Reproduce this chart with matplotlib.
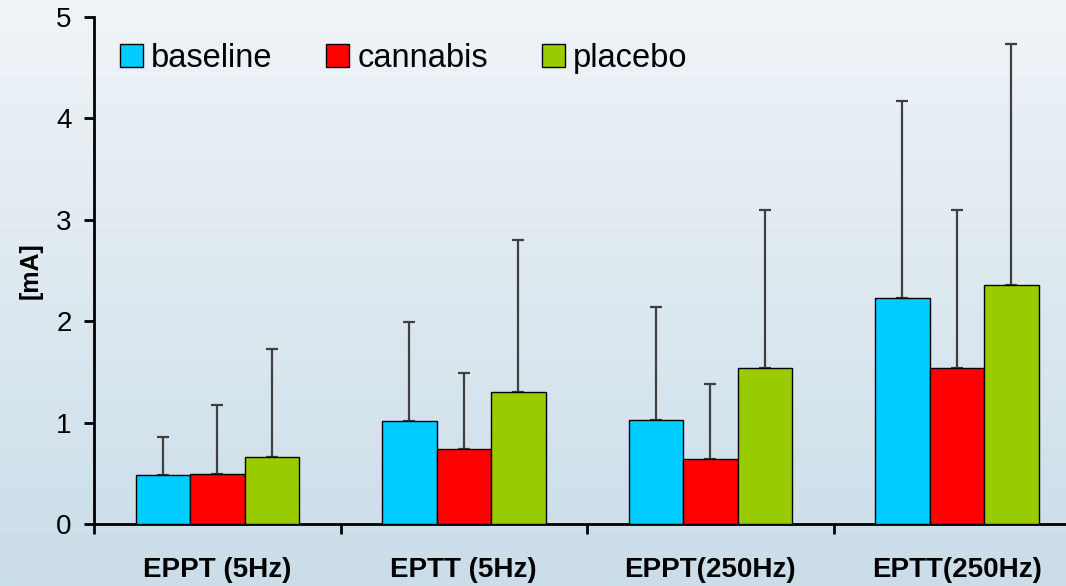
import matplotlib.pyplot as plt
import numpy as np
from matplotlib.ticker import FixedLocator

plt.rcParams['font.family'] = ['Liberation Sans', 'DejaVu Sans']

categories = ['EPPT (5Hz)', 'EPTT (5Hz)', 'EPPT(250Hz)', 'EPTT(250Hz)']
series = ['baseline', 'cannabis', 'placebo']
colors = ['#00CCFF', '#FF0000', '#99CC00']

baseline = [0.48, 1.02, 1.03, 2.23]
cannabis = [0.49, 0.74, 0.64, 1.54]
placebo = [0.66, 1.30, 1.54, 2.36]

# upper error (height above bar)
baseline_err = [0.38, 0.97, 1.11, 1.94]
cannabis_err = [0.68, 0.75, 0.74, 1.56]
placebo_err = [1.07, 1.50, 1.56, 2.37]

fig = plt.figure(figsize=(10.66, 5.86), dpi=100)

# gradient background
bg = fig.add_axes([0, 0, 1, 1], zorder=-10)
grad = np.linspace(0, 1, 256).reshape(-1, 1)
top = np.array([240, 244, 248]) / 255
bot = np.array([202, 221, 232]) / 255
img = top + (bot - top) * grad[:, :, None]
bg.imshow(img, aspect='auto', extent=[0, 1, 0, 1])
bg.axis('off')

ax = fig.add_axes([0.0882, 0.1058, 0.925, 0.865])
ax.patch.set_alpha(0)

x = np.arange(len(categories))
w = 0.221
vals = [baseline, cannabis, placebo]
errs = [baseline_err, cannabis_err, placebo_err]
for i, (v, e) in enumerate(zip(vals, errs)):
    pos = x + (i - 1) * w
    ax.bar(pos, v, width=w, color=colors[i], edgecolor='black', linewidth=1.0,
           label=series[i], zorder=3)
    ax.errorbar(pos, v, yerr=[np.zeros(len(e)), e], fmt='none',
                ecolor='#404040', elinewidth=1.6, capsize=4, capthick=1.6,
                zorder=2)

ax.set_xlim(-0.5, 3.5)
ax.set_ylim(0, 5)
ax.set_yticks([0, 1, 2, 3, 4, 5])
ax.tick_params(axis='y', labelsize=20, length=7, width=2, pad=9)

ax.xaxis.set_major_locator(FixedLocator([-0.5, 0.5, 1.5, 2.5]))
ax.xaxis.set_minor_locator(FixedLocator(x))
ax.set_xticklabels([], minor=False)
ax.set_xticklabels(categories, minor=True, fontweight='bold', fontsize=20)
ax.tick_params(axis='x', which='major', length=7, width=2, direction='out')
ax.tick_params(axis='x', which='minor', length=0, pad=24)

for s in ['top', 'right']:
    ax.spines[s].set_visible(False)
for s in ['left', 'bottom']:
    ax.spines[s].set_linewidth(2)

ax.set_ylabel('[mA]', fontweight='bold', fontsize=18, labelpad=10)

ax.legend(loc='upper left', ncol=3, frameon=False, fontsize=23.5,
          handlelength=0.7, handleheight=0.7, handletextpad=0.25,
          columnspacing=1.65, borderaxespad=0, bbox_to_anchor=(0.013, 0.975))

fig.savefig('out.png', dpi=100)
